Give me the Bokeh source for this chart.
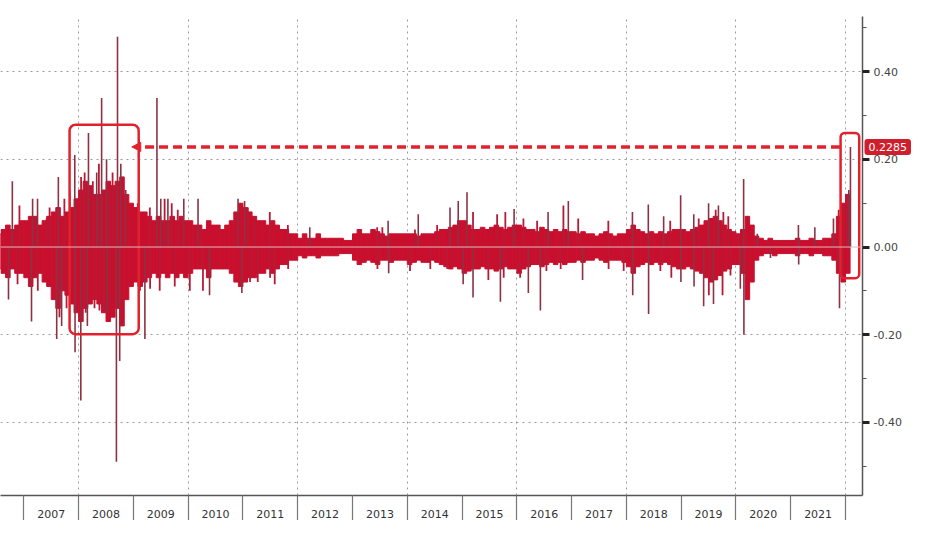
from bokeh.plotting import figure
from bokeh.models import (Range1d, FixedTicker, Span, Arrow, NormalHead, Label,
                          ColumnDataSource)
from bokeh.embed import file_html
from bokeh.resources import INLINE

# ---------------- data ----------------
# monthly envelope of the dense daily bars: upper (hi) and lower (lo)
hi_2006 = [0.03, 0.04, 0.05, 0.04, 0.05, 0.06]            # Jul-Dec
lo_2006 = [-0.05, -0.06, -0.07, -0.05, -0.06, -0.06]
hi_2007 = [0.06, 0.07, 0.07, 0.05, 0.06, 0.07, 0.08, 0.09, 0.07, 0.08, 0.09, 0.11]
lo_2007 = [-0.07, -0.09, -0.07, -0.06, -0.08, -0.09, -0.12, -0.14, -0.10, -0.11, -0.13, -0.15]
hi_2008 = [0.13, 0.15, 0.14, 0.12, 0.12, 0.13, 0.15, 0.14, 0.15, 0.16, 0.12, 0.10]
lo_2008 = [-0.17, -0.14, -0.13, -0.12, -0.13, -0.15, -0.17, -0.16, -0.14, -0.18, -0.12, -0.09]
hi_2009 = [0.09, 0.08, 0.08, 0.07, 0.06, 0.07, 0.06, 0.06, 0.07, 0.06, 0.07, 0.06]
lo_2009 = [-0.08, -0.09, -0.08, -0.07, -0.06, -0.07, -0.06, -0.07, -0.06, -0.07, -0.06, -0.07]
hi_2010 = [0.06, 0.05, 0.05, 0.04, 0.06, 0.05, 0.05, 0.04, 0.05, 0.06, 0.08, 0.10]
lo_2010 = [-0.06, -0.05, -0.05, -0.05, -0.07, -0.05, -0.05, -0.05, -0.05, -0.06, -0.08, -0.09]
hi_2011 = [0.09, 0.08, 0.07, 0.06, 0.06, 0.05, 0.06, 0.05, 0.04, 0.04, 0.03, 0.03]
lo_2011 = [-0.08, -0.07, -0.07, -0.06, -0.06, -0.05, -0.06, -0.05, -0.04, -0.04, -0.03, -0.03]
hi_2012 = [0.02, 0.03, 0.02, 0.02, 0.03, 0.02, 0.02, 0.02, 0.02, 0.02, 0.015, 0.015]
lo_2012 = [-0.02, -0.025, -0.02, -0.02, -0.025, -0.02, -0.02, -0.02, -0.02, -0.015, -0.015, -0.015]
hi_2013 = [0.03, 0.04, 0.03, 0.03, 0.04, 0.035, 0.03, 0.025, 0.03, 0.03, 0.03, 0.03]
lo_2013 = [-0.03, -0.04, -0.035, -0.03, -0.035, -0.04, -0.03, -0.03, -0.035, -0.03, -0.03, -0.03]
hi_2014 = [0.03, 0.03, 0.025, 0.03, 0.03, 0.03, 0.035, 0.04, 0.04, 0.045, 0.05, 0.06]
lo_2014 = [-0.04, -0.035, -0.03, -0.035, -0.035, -0.03, -0.035, -0.04, -0.045, -0.05, -0.045, -0.05]
hi_2015 = [0.06, 0.05, 0.04, 0.04, 0.045, 0.04, 0.045, 0.05, 0.045, 0.04, 0.045, 0.05]
lo_2015 = [-0.06, -0.055, -0.05, -0.05, -0.045, -0.05, -0.05, -0.055, -0.05, -0.045, -0.05, -0.05]
hi_2016 = [0.05, 0.045, 0.04, 0.04, 0.035, 0.045, 0.04, 0.035, 0.04, 0.035, 0.04, 0.035]
lo_2016 = [-0.06, -0.05, -0.045, -0.04, -0.04, -0.045, -0.04, -0.035, -0.04, -0.035, -0.04, -0.035]
hi_2017 = [0.035, 0.03, 0.035, 0.03, 0.03, 0.025, 0.03, 0.035, 0.03, 0.025, 0.03, 0.03]
lo_2017 = [-0.035, -0.03, -0.035, -0.03, -0.03, -0.025, -0.03, -0.035, -0.03, -0.03, -0.03, -0.035]
hi_2018 = [0.04, 0.05, 0.04, 0.035, 0.03, 0.035, 0.03, 0.035, 0.03, 0.035, 0.04, 0.04]
lo_2018 = [-0.045, -0.06, -0.045, -0.04, -0.035, -0.04, -0.035, -0.04, -0.035, -0.04, -0.045, -0.05]
hi_2019 = [0.04, 0.035, 0.04, 0.045, 0.05, 0.06, 0.065, 0.07, 0.06, 0.05, 0.04, 0.035]
lo_2019 = [-0.05, -0.045, -0.05, -0.055, -0.06, -0.07, -0.08, -0.075, -0.065, -0.055, -0.05, -0.04]
hi_2020 = [0.03, 0.04, 0.07, 0.05, 0.025, 0.02, 0.015, 0.02, 0.015, 0.015, 0.015, 0.015]
lo_2020 = [-0.04, -0.06, -0.12, -0.08, -0.03, -0.02, -0.015, -0.015, -0.02, -0.015, -0.015, -0.015]
hi_2021 = [0.015, 0.02, 0.015, 0.015, 0.02, 0.015, 0.015, 0.02, 0.02, 0.03, 0.07, 0.10]
lo_2021 = [-0.015, -0.02, -0.015, -0.015, -0.02, -0.015, -0.015, -0.02, -0.02, -0.03, -0.06, -0.08]
hi_2022 = [0.12]                                           # Jan
lo_2022 = [-0.06]

# tall isolated spikes: (date as fractional year, value)
spike_t = [2006.72, 2006.79, 2007.14, 2007.16, 2007.25, 2007.60, 2007.63, 2007.69,
           2007.84, 2007.93, 2007.935, 2008.04, 2008.16, 2008.18, 2008.33, 2008.42,
           2008.51, 2008.52, 2008.69, 2008.71, 2008.75, 2008.77, 2008.86, 2009.21,
           2009.43, 2009.50, 2009.63, 2009.92, 2010.18, 2010.39, 2010.91, 2010.98,
           2011.03, 2012.22, 2013.65, 2013.66, 2014.20, 2014.78, 2014.93, 2015.02,
           2015.09, 2015.20, 2015.70, 2015.95, 2016.21, 2016.43, 2016.57, 2016.94,
           2017.20, 2018.11, 2018.115, 2018.40, 2018.405, 2018.68, 2018.99, 2018.995,
           2019.23, 2019.235, 2019.41, 2019.50, 2019.59, 2019.68, 2020.08, 2020.14,
           2020.145, 2020.39, 2020.63, 2021.14, 2021.145, 2021.44, 2021.78, 2021.89,
           2022.06, 2022.09]
spike_v = [-0.12, 0.15, -0.17, 0.11, 0.11, -0.21, 0.16, -0.18,
           0.13, 0.21, -0.24, -0.35, -0.18, 0.26, 0.17, 0.34,
           0.20, -0.15, -0.49, 0.48, -0.26, 0.19, 0.13, -0.21,
           0.34, 0.11, 0.11, 0.11, 0.11, -0.11, 0.11, -0.105,
           0.105, 0.045, 0.06, -0.06, 0.075, 0.09, 0.105, -0.085,
           0.125, -0.115, -0.125, 0.087, -0.105, -0.145, 0.08, 0.105,
           -0.075, 0.08, -0.11, 0.097, -0.153, 0.07, 0.118, -0.08,
           0.075, -0.09, -0.135, 0.10, -0.13, 0.095, -0.095, 0.155,
           -0.20, 0.03, -0.025, 0.05, -0.04, 0.045, 0.065, -0.14,
           0.13, 0.2285]

# moderate spikes poking out of the dense band
minor_t = [2006.92, 2007.415, 2007.47, 2007.74, 2006.885, 2007.255, 2007.65, 2007.78,
           2008.045, 2008.11, 2008.26, 2008.37, 2008.57, 2008.62, 2008.13, 2008.29,
           2008.38, 2008.46, 2008.575, 2009.08, 2009.30, 2009.57, 2009.70, 2009.81,
           2009.12, 2009.305, 2009.48, 2009.755, 2010.03, 2010.27, 2011.09, 2011.22,
           2011.49, 2011.82, 2011.13, 2011.27, 2011.495, 2011.58, 2011.825, 2013.45,
           2013.545, 2014.14, 2014.545, 2013.455, 2014.05, 2014.42, 2014.73, 2015.20,
           2015.64, 2015.79, 2016.12, 2016.37, 2016.85, 2017.12, 2017.67, 2015.48,
           2015.76, 2016.06, 2016.54, 2016.80, 2017.675, 2017.95, 2018.80, 2018.62,
           2018.82, 2019.32, 2019.63, 2019.77, 2019.86, 2019.505, 2019.755, 2019.90,
           2020.04, 2021.875, 2021.97, 2022.03, 2021.86, 2021.95]
minor_v = [0.095, 0.065, 0.09, 0.11, -0.085, -0.10, -0.16, -0.14,
           0.16, 0.17, 0.15, 0.19, 0.13, 0.17, -0.15, -0.14,
           -0.145, -0.15, -0.14, 0.10, 0.09, 0.11, 0.10, 0.085,
           -0.10, -0.095, -0.10, -0.09, -0.10, -0.10, 0.09, 0.07,
           0.08, 0.05, -0.08, -0.08, -0.07, -0.085, -0.05, 0.045,
           0.045, 0.04, 0.05, -0.05, -0.055, -0.05, -0.05, 0.08,
           0.075, 0.08, 0.065, 0.06, 0.095, 0.065, 0.06, -0.075,
           -0.07, -0.07, -0.055, -0.05, -0.05, -0.055, 0.06, -0.055,
           -0.07, 0.065, 0.085, 0.08, 0.07, -0.11, -0.11, -0.065,
           0.03, 0.085, 0.10, 0.12, -0.045, -0.06]

last_value = 0.2285
year_labels = [str(y) for y in range(2007, 2022)]
y_ticks = [-0.40, -0.20, 0.00, 0.20, 0.40]

# ---------------- assemble monthly bars ----------------
env = [(2006, 6, hi_2006, lo_2006), (2007, 0, hi_2007, lo_2007), (2008, 0, hi_2008, lo_2008),
       (2009, 0, hi_2009, lo_2009), (2010, 0, hi_2010, lo_2010), (2011, 0, hi_2011, lo_2011),
       (2012, 0, hi_2012, lo_2012), (2013, 0, hi_2013, lo_2013), (2014, 0, hi_2014, lo_2014),
       (2015, 0, hi_2015, lo_2015), (2016, 0, hi_2016, lo_2016), (2017, 0, hi_2017, lo_2017),
       (2018, 0, hi_2018, lo_2018), (2019, 0, hi_2019, lo_2019), (2020, 0, hi_2020, lo_2020),
       (2021, 0, hi_2021, lo_2021), (2022, 0, hi_2022, lo_2022)]
L, R, T, B = [], [], [], []
for yr, m0, his, los in env:
    for i, (h, l) in enumerate(zip(his, los)):
        t0 = yr + (m0 + i) / 12.0
        L.append(t0); R.append(t0 + 1 / 12.0); T.append(h); B.append(l)
bars = ColumnDataSource(dict(left=L, right=R, top=T, bottom=B))
spikes = ColumnDataSource(dict(x=spike_t, y0=[0] * len(spike_t), y1=spike_v))
minors = ColumnDataSource(dict(x=minor_t, y0=[0] * len(minor_t), y1=minor_v))

RED = "#c8102e"
ANN = "#e3212d"
FONT = "DejaVu Sans"
X_START, X_END = 2006.574, 2022.31

p = figure(width=918, height=520, output_backend="svg", toolbar_location=None,
           y_axis_location="right",
           x_range=Range1d(X_START, X_END), y_range=Range1d(-0.567, 0.526),
           min_border_left=0, min_border_top=0, min_border_right=56, min_border_bottom=0)
p.outline_line_color = None
p.background_fill_color = "white"

# grids
p.xgrid.ticker = FixedTicker(ticks=list(range(2008, 2023, 2)))
p.ygrid.ticker = FixedTicker(ticks=[-0.4, -0.2, 0.2, 0.4])
for g in (p.xgrid, p.ygrid):
    g.grid_line_color = "#9a9a9a"
    g.grid_line_dash = "2 4"
    g.grid_line_width = 1

# data
p.quad(left="left", right="right", top="top", bottom="bottom", source=bars,
       fill_color=RED, line_color=RED, line_width=1)
p.segment(x0="x", y0="y0", x1="x", y1="y1", source=minors,
          line_color="#b51b36", line_width=1.8)
p.segment(x0="x", y0="y0", x1="x", y1="y1", source=spikes,
          line_color="#8a3345", line_width=1.6)
p.add_layout(Span(location=0, dimension="width", line_color="#e7b8bd", line_width=1))

# annotations
p.quad(left=[2007.835], right=[2009.097], top=[0.279], bottom=[-0.199],
       fill_color=None, line_color=ANN, line_width=2.5, border_radius=6)
p.quad(left=[2021.91], right=[2022.25], top=[0.26], bottom=[-0.071],
       fill_color=None, line_color=ANN, line_width=2.5, border_radius=4)
p.add_layout(Arrow(end=NormalHead(size=9, fill_color=ANN, line_color=ANN),
                   x_start=2021.90, y_start=last_value, x_end=2008.97, y_end=last_value,
                   line_color=ANN, line_width=3.5, line_dash="9 5"))
p.add_layout(Label(x=X_END, y=last_value, x_offset=2,
                   text=f"{last_value:.4f}",
                   text_color="white", text_font=FONT, text_font_size="11px",
                   text_baseline="middle", background_fill_color="#cf1f2d",
                   padding=4, border_radius=3), "above")

# x axis: year boxes
xa = p.xaxis[0]
xa.ticker = FixedTicker(ticks=[y + 0.5 for y in range(2007, 2022)],
                        minor_ticks=list(range(2007, 2023)))
xa.major_label_overrides = {y + 0.5: lbl for y, lbl in zip(range(2007, 2022), year_labels)}
xa.major_tick_out = 0
xa.major_tick_in = 0
xa.minor_tick_out = 0
xa.minor_tick_in = -34
xa.minor_tick_line_color = "#777777"
xa.minor_tick_line_width = 1.2
xa.axis_line_color = "#555555"
xa.axis_line_width = 1.5
xa.major_label_standoff = 14
xa.major_label_text_font = FONT
xa.major_label_text_font_size = "11px"
xa.major_label_text_color = "#333333"

# y axis on the right
ya = p.yaxis[0]
ya.ticker = FixedTicker(ticks=y_ticks, minor_ticks=[-0.5, -0.3, -0.1, 0.1, 0.3, 0.5])
ya.major_label_overrides = {v: f"{v:.2f}" for v in y_ticks}
ya.major_tick_out = 7
ya.major_tick_in = 0
ya.major_tick_line_width = 3
ya.major_tick_line_color = "#222222"
ya.minor_tick_out = 4
ya.minor_tick_in = 0
ya.minor_tick_line_color = "#555555"
ya.axis_line_color = "#555555"
ya.axis_line_width = 1.5
ya.major_label_standoff = 4
ya.major_label_text_font = FONT
ya.major_label_text_font_size = "11px"
ya.major_label_text_color = "#444444"

open("out.html", "w").write(file_html(p, INLINE))
